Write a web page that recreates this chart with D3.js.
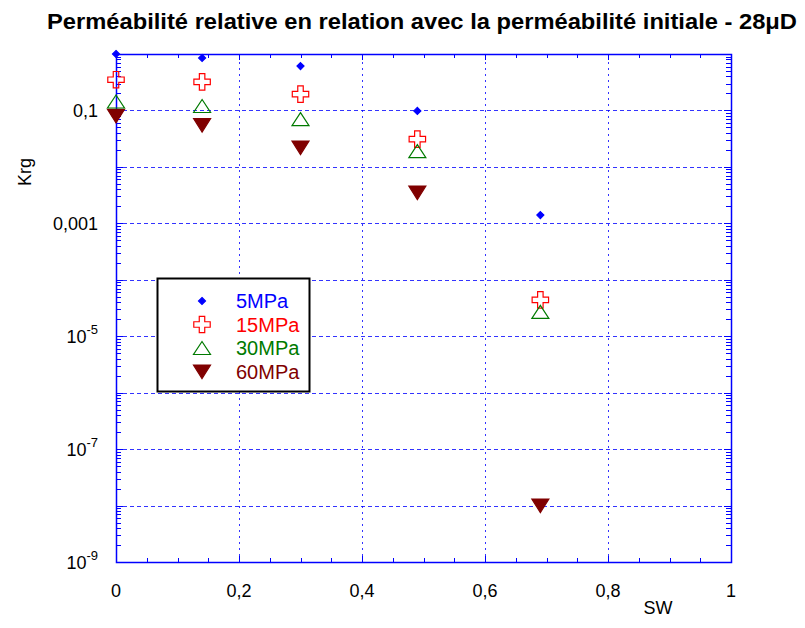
<!DOCTYPE html>
<html>
<head>
<meta charset="utf-8">
<script src="https://cdn.jsdelivr.net/npm/d3@7"></script>
<style>
    body { margin: 0; background: #ffffff; }
    svg { display: block; font-family: "Liberation Sans", Arial, sans-serif; }
</style>
</head>
<body>
<svg id="chart" width="805" height="628"></svg>
<script>
// data
var sw_values = [0, 0.14, 0.30, 0.49, 0.69];
var series_names = ["5MPa", "15MPa", "30MPa", "60MPa"];
var krg_5mpa = [1.0, 0.85, 0.61, 0.098, 0.0014];
var krg_15mpa = [0.35, 0.32, 0.195, 0.031, 4.4e-5];
var krg_30mpa = [0.144, 0.12, 0.070, 0.019, 2.7e-5];
var krg_60mpa = [0.080, 0.055, 0.022, 0.0035, 1.0e-8];
var x_ticks = [0, 0.2, 0.4, 0.6, 0.8, 1];
var y_label_exps = [-1, -3, -5, -7, -9];

var margin = {left: 116, right: 74, top: 54, bottom: 66};
var width = 805, height = 628;
var blue = "#0000ff";

var svg = d3.select("#chart");

var x = d3.scaleLinear().domain([0, 1]).range([margin.left, width - margin.right]);
var y = d3.scaleLog().domain([1e-9, 1]).range([height - margin.bottom, margin.top]);

var x0 = x.range()[0], x1 = x.range()[1];
var y0 = y.range()[0], y1 = y.range()[1];

// grid
var decades = d3.range(-8, 0).map(function (e) { return Math.pow(10, e); });
svg.append("g").selectAll("line")
    .data(decades)
    .enter()
    .append("line")
    .attr("x1", x0).attr("x2", x1)
    .attr("y1", function (d) { return Math.round(y(d)) + 0.5; })
    .attr("y2", function (d) { return Math.round(y(d)) + 0.5; })
    .attr("stroke", blue)
    .attr("stroke-opacity", 0.8)
    .attr("stroke-dasharray", "4,3");

svg.append("g").selectAll("line")
    .data([0.2, 0.4, 0.6, 0.8])
    .enter()
    .append("line")
    .attr("x1", function (d) { return Math.round(x(d)) + 0.5; })
    .attr("x2", function (d) { return Math.round(x(d)) + 0.5; })
    .attr("y1", y0).attr("y2", y1)
    .attr("stroke", blue)
    .attr("stroke-opacity", 0.8)
    .attr("stroke-dasharray", "2,4");

// ticks, pointing inside the box
var minor_x = d3.range(0, 21).map(function (i) { return i * 0.05; });
var tick_g = svg.append("g").attr("stroke", blue).attr("stroke-width", 1);
minor_x.forEach(function (d) {
    var px = Math.round(x(d)) + 0.5;
    var len = (Math.abs(d * 5 - Math.round(d * 5)) < 1e-6) ? 6 : 4;
    tick_g.append("line").attr("x1", px).attr("x2", px).attr("y1", y0).attr("y2", y0 - len);
    tick_g.append("line").attr("x1", px).attr("x2", px).attr("y1", y1).attr("y2", y1 + len);
});

var minor_y = [];
for (var e = -9; e < 0; e++) {
    for (var m = 1; m < 10; m++) {
        minor_y.push(m * Math.pow(10, e));
    }
}
minor_y.push(1);
minor_y.forEach(function (d) {
    var py = Math.round(y(d)) + 0.5;
    var first = Math.abs(Math.log10(d) - Math.round(Math.log10(d))) < 1e-9;
    var len = first ? 7 : 5;
    tick_g.append("line").attr("x1", x0).attr("x2", x0 + len).attr("y1", py).attr("y2", py);
    tick_g.append("line").attr("x1", x1).attr("x2", x1 - len).attr("y1", py).attr("y2", py);
});

// frame
svg.append("rect")
    .attr("x", x0 + 0.5).attr("y", y1 + 0.5)
    .attr("width", x1 - x0).attr("height", y0 - y1)
    .attr("fill", "none")
    .attr("stroke", blue)
    .attr("stroke-width", 1.5);

// tick labels
svg.append("g").selectAll("text")
    .data(x_ticks)
    .enter()
    .append("text")
    .attr("x", function (d) { return x(d); })
    .attr("y", y0 + 35)
    .attr("text-anchor", "middle")
    .style("font-size", "18px")
    .text(function (d) { return String(d).replace(".", ","); });

svg.append("g").selectAll("text")
    .data(y_label_exps)
    .enter()
    .append("text")
    .attr("x", x0 - 18)
    .attr("y", function (d) { return y(Math.pow(10, d)) + 6.5; })
    .attr("text-anchor", "end")
    .style("font-size", "18px")
    .each(function (d) {
        var t = d3.select(this);
        if (d >= -3) {
            t.text(String(Math.pow(10, d).toFixed(-d)).replace(".", ","));
        } else {
            t.append("tspan").text("10");
            t.append("tspan").attr("dy", -9).style("font-size", "13px").text("-" + (-d));
        }
    });

// axis titles
svg.append("text")
    .attr("transform", "translate(31,172) rotate(-90)")
    .attr("text-anchor", "middle")
    .style("font-size", "18px")
    .text("Krg");

svg.append("text")
    .attr("x", 658)
    .attr("y", 614)
    .attr("text-anchor", "middle")
    .style("font-size", "18px")
    .text("SW");

svg.append("text")
    .attr("x", 47)
    .attr("y", 28.5)
    .attr("textLength", 750)
    .attr("lengthAdjust", "spacingAndGlyphs")
    .style("font-size", "22px")
    .style("font-weight", "bold")
    .text("Perméabilité relative en relation avec la perméabilité initiale - 28μD");

// markers
function markerPath(kind) {
    if (kind == 0) return "M0,-3.5L3.5,0L0,3.5L-3.5,0Z";
    if (kind == 1) return d3.symbol(d3.symbolCross, 150)();
    if (kind == 2) return "M0,-6.5L8.5,6.5L-8.5,6.5Z";
    return "M-8.5,-6.5L8.5,-6.5L0,7Z";
}
var marker_fill = ["#0000ff", "none", "none", "#800000"];
var marker_stroke = ["#0000ff", "#ff0000", "#007a00", "#800000"];
var text_color = ["#0000ff", "#ff0000", "#007a00", "#800000"];
var all_series = [krg_5mpa, krg_15mpa, krg_30mpa, krg_60mpa];

var draw_order = [3, 1, 2, 0];
draw_order.forEach(function (k) {
    svg.append("g").selectAll("path")
        .data(all_series[k])
        .enter()
        .append("path")
        .attr("transform", function (d, i) {
            return "translate(" + x(sw_values[i]) + "," + y(d) + ")";
        })
        .attr("d", markerPath(k))
        .attr("fill", marker_fill[k])
        .attr("stroke", marker_stroke[k])
        .attr("stroke-width", 1.2);
});

// legend
var legend = svg.append("g");
legend.append("rect")
    .attr("x", 157.5).attr("y", 278.5)
    .attr("width", 152).attr("height", 113)
    .attr("fill", "#ffffff")
    .attr("stroke", "#000000")
    .attr("stroke-width", 2);
legend.selectAll("g")
    .data(series_names)
    .enter()
    .append("g")
    .attr("transform", function (d, i) {
        return "translate(202," + (301 + 23.5 * i) + ")";
    })
    .each(function (d, i) {
        d3.select(this)
            .append("path")
            .attr("d", markerPath(i))
            .attr("fill", marker_fill[i])
            .attr("stroke", marker_stroke[i])
            .attr("stroke-width", 1.2);
        d3.select(this)
            .append("text")
            .text(d)
            .attr("x", 34)
            .attr("y", 7)
            .style("font-size", "20px")
            .attr("fill", text_color[i]);
    });
</script>
</body>
</html>
